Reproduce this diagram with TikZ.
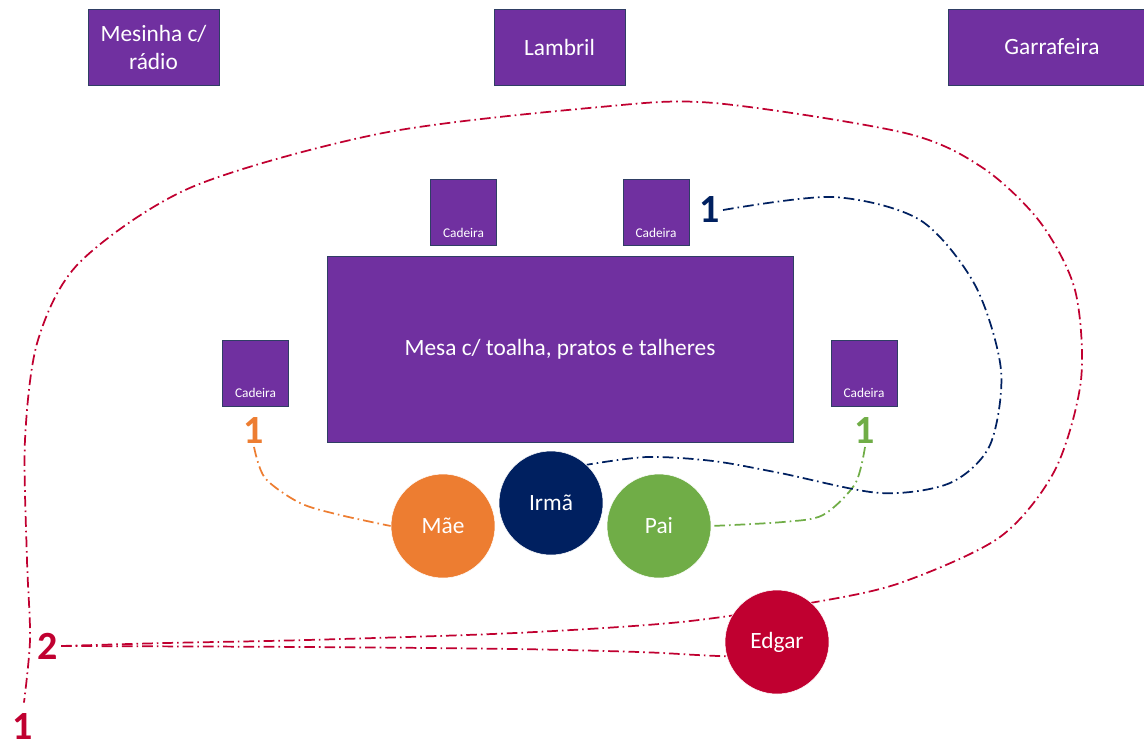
\documentclass[tikz,border=0pt]{standalone}
\usepackage{fontspec}
\setmainfont{Carlito}
\usepackage{tikz}
\usetikzlibrary{backgrounds}
\definecolor{purple}{HTML}{7030A0}
\definecolor{rim}{HTML}{2F3E64}
\definecolor{orange}{HTML}{ED7D31}
\definecolor{navy}{HTML}{002060}
\definecolor{green}{HTML}{70AD47}
\definecolor{crimson}{HTML}{C00030}

\begin{document}
\begin{tikzpicture}[x=0.75pt,y=-0.75pt,
  furn/.style={draw=rim,fill=purple,text=white,font=\fontsize{17.5}{21}\selectfont,align=center,inner sep=0pt},
  chair/.style={furn,minimum width=49.5pt,minimum height=49.5pt,label={[anchor=south,text=white,font=\fontsize{10}{12}\selectfont,inner sep=0pt,yshift=6pt]south:Cadeira}},
  person/.style={circle,draw=white,text=white,minimum size=78pt,inner sep=0pt,font=\fontsize{17.5}{21}\selectfont},
  num/.style={font=\bfseries\fontsize{30}{32}\selectfont,inner sep=2pt},
  trail/.style={line width=1.3pt,dash pattern=on 8pt off 3pt on 1.2pt off 3pt}]
\useasboundingbox (0,0) rectangle (1144,746);
\node[furn,minimum width=98.25pt,minimum height=57pt] (radio) at (153.5,47) {Mesinha c/\\rádio};
\node[furn,minimum width=98.25pt,minimum height=57pt] (lambril) at (559.5,47) {Lambril};
\node[furn,minimum width=156pt,minimum height=57pt] (garrafeira) at (1052,47) {Garrafeira};
\node[furn,minimum width=349.5pt,minimum height=139.5pt] (mesa) at (560,349) {Mesa c/ toalha, pratos e talheres};
\node[chair] (cadA) at (463.5,212.5) {};
\node[chair] (cadB) at (656,212.5) {};
\node[chair] (cadC) at (255.5,373) {};
\node[chair] (cadD) at (864,373) {};
\node[person,fill=orange] (mae) at (443,526) {Mãe};
\node[person,fill=navy] (irma) at (551,503) {Irmã};
\node[person,fill=green] (pai) at (659,526) {Pai};
\node[person,fill=crimson] (edgar) at (777,642) {Edgar};
\node[num,text=orange] (maeA) at (254,431) {1};
\node[num,text=green] (paiA) at (865,431) {1};
\node[num,text=navy] (irmaA) at (710,210) {1};
\node[num,text=crimson] (edgarB) at (48,646) {2};
\node[num,text=crimson] (edgarA) at (23,726) {1};
\begin{scope}[on background layer]
\draw[trail,orange] plot[smooth] coordinates {(maeA.south) (265,478) (300,503) (340,515) (mae.west)};
\draw[trail,green] plot[smooth] coordinates {(paiA.south) (855,484) (823,515) (783,522) (pai.east)};
\draw[trail,navy] plot[smooth] coordinates {(irmaA.east) (833,197) (920,220) (975,285) (1001,370) (990,445) (950,483) (880,493) (780,473) (713,461) (647,457) (irma.47)};
\draw[trail,crimson] plot[smooth] coordinates {(edgarB.east) (307,647) (515,649) (639,652) (697,655) (edgar.196)};
\draw[trail,crimson,shorten >=6pt] plot[smooth] coordinates {(edgarB.east) (166,643) (307,640) (515,633) (681,622) (810,603) (900,583) (1000,537) (1055,470) (1081,380) (1075,290) (1040,222) (983,168) (905,133) (714,103) (600,107) (383,133) (192,187) (80,262) (38,340) (25,440) (27,560) (30,640) (edgarA.north)};
\end{scope}
\end{tikzpicture}
\end{document}
